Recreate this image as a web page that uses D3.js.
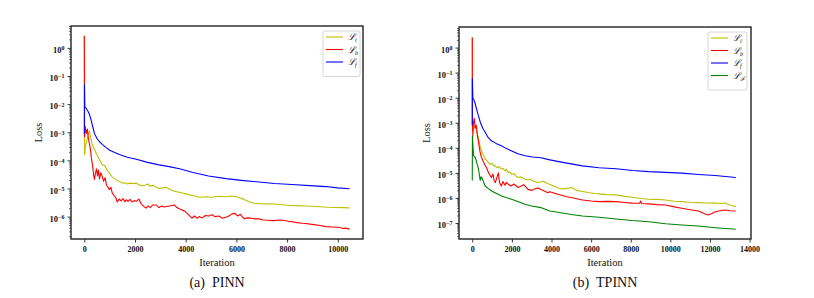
<!DOCTYPE html>
<html>
  <head>
    <meta charset="utf-8">
    <title>Loss curves</title>
    <script src="https://d3js.org/d3.v7.min.js"></script>
    <style>
      body { margin: 0; background: #fff; }
      svg text { font-family: "Liberation Serif", "DejaVu Serif", serif; fill: #111; }
    </style>
  </head>
  <body>
    <script>
      // --- data: [iteration, loss] ---
      const pinnLi = [[0,2.7],[10,1.6e-4],[50,3.5e-4],[100,5e-4],[150,8e-4],[200,1.1e-3],[260,6e-4],[320,3.5e-4],[400,2.5e-4],[480,1.7e-4],[590,1.1e-4],[700,7e-5],[800,6.5e-5],[900,4.5e-5],[985,3.5e-5],[1100,2.6e-5],[1200,2.2e-5],[1300,1.9e-5],[1380,1.8e-5],[1500,1.55e-5],[1600,1.6e-5],[1700,1.45e-5],[1800,1.55e-5],[1900,1.5e-5],[2050,1.55e-5],[2150,1.35e-5],[2250,1.25e-5],[2400,1.3e-5],[2500,1.45e-5],[2600,1.2e-5],[2700,1.3e-5],[2800,1.15e-5],[2950,1.0e-5],[3100,1.05e-5],[3230,1.1e-5],[3400,9e-6],[3550,8e-6],[3740,7.4e-6],[3900,6.8e-6],[4050,6.3e-6],[4250,5.6e-6],[4400,5.3e-6],[4530,4.9e-6],[4700,5.0e-6],[4850,5.1e-6],[5040,4.9e-6],[5200,5.2e-6],[5400,5.3e-6],[5600,5.1e-6],[5800,5.4e-6],[5950,5.2e-6],[6100,4.8e-6],[6300,4.1e-6],[6500,3.4e-6],[6700,3.0e-6],[6900,2.9e-6],[7200,2.85e-6],[7500,2.8e-6],[7800,2.65e-6],[8100,2.5e-6],[8400,2.45e-6],[8700,2.4e-6],[9000,2.35e-6],[9300,2.25e-6],[9600,2.15e-6],[9900,2.1e-6],[10200,2.08e-6],[10470,2.05e-6]];
      const pinnLb = [[0,2.7],[10,7e-4],[40,1.6e-3],[80,9e-4],[120,1.3e-3],[160,6e-4],[200,4e-4],[240,2.5e-4],[280,1.2e-4],[330,6e-5],[370,3e-5],[400,2.1e-5],[440,3.5e-5],[480,5e-5],[520,2.8e-5],[560,4.5e-5],[600,2.2e-5],[650,3.6e-5],[710,2.7e-5],[760,1.8e-5],[820,2.4e-5],[880,1.3e-5],[940,1.1e-5],[985,9e-6],[1050,1.1e-5],[1100,7e-6],[1180,5.5e-6],[1250,4.6e-6],[1300,3.3e-6],[1380,4.2e-6],[1450,3.6e-6],[1520,4.4e-6],[1600,3.4e-6],[1650,4e-6],[1720,3.5e-6],[1800,4.1e-6],[1880,3.3e-6],[1960,3.7e-6],[2050,3.5e-6],[2150,4.2e-6],[2250,2.8e-6],[2350,2.3e-6],[2440,2e-6],[2520,2.4e-6],[2600,2.1e-6],[2700,2.6e-6],[2830,2.6e-6],[2950,2.1e-6],[3050,2.4e-6],[3150,2.2e-6],[3250,2.3e-6],[3350,2.4e-6],[3450,2.5e-6],[3550,2.6e-6],[3650,2.1e-6],[3800,1.8e-6],[3950,1.6e-6],[4100,1.2e-6],[4250,8.9e-7],[4350,1.05e-6],[4450,8.7e-7],[4530,1.0e-6],[4650,9e-7],[4780,1.1e-6],[4900,1.05e-6],[5040,1.17e-6],[5150,1.0e-6],[5300,1.05e-6],[5450,8.8e-7],[5590,9.5e-7],[5700,1.05e-6],[5830,1.25e-6],[5950,1.3e-6],[6050,1.05e-6],[6150,1.2e-6],[6300,8.5e-7],[6450,9e-7],[6600,8.7e-7],[6750,8.3e-7],[6890,8.3e-7],[7050,7.6e-7],[7250,7.4e-7],[7480,7.2e-7],[7700,7.6e-7],[7900,7.3e-7],[8050,6.8e-7],[8190,6.6e-7],[8400,6.1e-7],[8600,5.8e-7],[8860,5.5e-7],[9050,5.2e-7],[9250,4.9e-7],[9530,4.4e-7],[9750,4.3e-7],[10040,4.2e-7],[10200,3.8e-7],[10300,3.9e-7],[10470,3.6e-7]];
      const pinnLf = [[0,8.5e-4],[8,5e-2],[20,8e-3],[80,7e-3],[150,5.5e-3],[200,4.4e-3],[280,2.5e-3],[330,1.6e-3],[400,9.1e-4],[500,6e-4],[600,4.6e-4],[710,3.7e-4],[850,2.9e-4],[1000,2.3e-4],[1200,1.9e-4],[1380,1.62e-4],[1700,1.3e-4],[2050,1.1e-4],[2500,8.5e-5],[2950,6.9e-5],[3350,6.0e-5],[3800,4.9e-5],[4250,3.8e-5],[4900,2.8e-5],[5590,2.24e-5],[6200,1.95e-5],[6890,1.7e-5],[7500,1.5e-5],[8190,1.38e-5],[8900,1.26e-5],[9530,1.17e-5],[10000,1.05e-5],[10470,9.8e-6]];

      const tpinnLi = [[0,2.5],[10,5e-4],[80,6e-4],[165,7.9e-4],[240,4e-4],[315,2.3e-4],[390,1.2e-4],[465,7.6e-5],[560,5e-5],[660,3.5e-5],[740,3.1e-5],[815,2.6e-5],[900,2.2e-5],[1000,2.4e-5],[1080,1.9e-5],[1165,1.9e-5],[1250,1.6e-5],[1350,1.8e-5],[1465,1.45e-5],[1550,1.5e-5],[1650,1.2e-5],[1720,1.4e-5],[1815,1.02e-5],[1900,1.1e-5],[2000,8.5e-6],[2100,9.5e-6],[2200,7.5e-6],[2315,6.5e-6],[2450,7e-6],[2600,5.8e-6],[2815,5.2e-6],[2950,5.6e-6],[3100,4.6e-6],[3315,4.1e-6],[3450,4.3e-6],[3600,4.6e-6],[3800,3.8e-6],[4100,3.0e-6],[4315,2.5e-6],[4550,2.3e-6],[4765,2.4e-6],[5015,2.6e-6],[5250,2.0e-6],[5565,1.8e-6],[5900,1.6e-6],[6200,1.5e-6],[6415,1.45e-6],[6800,1.35e-6],[7265,1.32e-6],[7700,1.15e-6],[8065,1.07e-6],[8500,9.5e-7],[8915,8.9e-7],[9300,8.8e-7],[9765,8.3e-7],[10200,7.4e-7],[10565,7.1e-7],[11000,6.7e-7],[11415,6.5e-7],[11800,6.3e-7],[12265,6.2e-7],[12600,6.0e-7],[12765,6.3e-7],[13000,5.2e-7],[13300,4.5e-7]];
      const tpinnLb = [[0,2.5],[5,1e-3],[30,3e-4],[60,1e-3],[100,1.5e-3],[150,6e-4],[200,8e-4],[250,3.5e-4],[315,1.6e-4],[390,7e-5],[465,4.1e-5],[560,2.8e-5],[665,1.9e-5],[740,1.5e-5],[815,1.02e-5],[900,8e-6],[965,6.5e-6],[1050,9e-6],[1100,5e-6],[1165,4.1e-6],[1230,6e-6],[1315,1.0e-5],[1380,4e-6],[1465,3.0e-6],[1550,4.5e-6],[1650,3.2e-6],[1720,4.2e-6],[1815,3.5e-6],[1950,3.0e-6],[2100,3.6e-6],[2315,2.6e-6],[2450,2.9e-6],[2600,3.4e-6],[2815,2.2e-6],[3000,2.0e-6],[3150,2.3e-6],[3315,2.5e-6],[3500,2.1e-6],[3815,1.6e-6],[3915,1.78e-6],[4315,1.4e-6],[4550,1.25e-6],[4765,1.12e-6],[5100,1.0e-6],[5565,8.3e-7],[6000,7.5e-7],[6415,7.1e-7],[6800,7.3e-7],[7265,7.1e-7],[7700,6.6e-7],[8065,6.2e-7],[8450,6.1e-7],[8500,7.5e-7],[8550,6.0e-7],[8915,5.8e-7],[9300,5.4e-7],[9765,5.2e-7],[10200,4.4e-7],[10565,3.9e-7],[11000,3.4e-7],[11415,3.0e-7],[11765,2.3e-7],[11915,2.1e-7],[12100,2.4e-7],[12265,2.8e-7],[12500,3.1e-7],[12765,3.3e-7],[13000,3.1e-7],[13300,3.0e-7]];
      const tpinnLf = [[0,8e-4],[5,5.8e-2],[30,9e-3],[65,9e-3],[140,6e-3],[215,3.6e-3],[300,2e-3],[415,1e-3],[530,6e-4],[665,4e-4],[800,2.6e-4],[965,1.9e-4],[1200,1.5e-4],[1465,1.2e-4],[1700,9.5e-5],[1965,7.6e-5],[2300,5.8e-5],[2665,4.8e-5],[3050,4.3e-5],[3465,4.0e-5],[3915,3.3e-5],[4700,2.5e-5],[5565,1.9e-5],[6400,1.6e-5],[7265,1.45e-5],[8100,1.25e-5],[8915,1.12e-5],[9750,1.05e-5],[10565,9.8e-6],[11415,8.6e-6],[12265,7.8e-6],[13300,6.5e-6]];
      const tpinnLF = [[0,5e-6],[8,3e-4],[30,1.3e-4],[65,4.8e-5],[150,4.2e-5],[230,2.5e-5],[315,1.4e-5],[400,5e-6],[450,7e-6],[520,5.5e-6],[650,3e-6],[800,2.4e-6],[980,1.9e-6],[1200,1.55e-6],[1480,1.2e-6],[1700,1.05e-6],[1980,8.9e-7],[2300,7.2e-7],[2650,5.6e-7],[3000,4.8e-7],[3480,4.1e-7],[3915,3.0e-7],[4315,2.7e-7],[5000,2.2e-7],[5565,1.9e-7],[6415,1.7e-7],[7265,1.45e-7],[8065,1.25e-7],[8915,1.12e-7],[9765,9.3e-8],[10565,8.3e-8],[11415,7.6e-8],[12265,6.5e-8],[13300,5.6e-8]];

      // tick labels
      const xTicksA = [0, 2000, 4000, 6000, 8000, 10000];
      const xTicksB = [0, 2000, 4000, 6000, 8000, 10000, 12000, 14000];
      const yExpA = [0, -1, -2, -3, -4, -5, -6];
      const yExpB = [0, -1, -2, -3, -4, -5, -6, -7];
      const captions = ["(a)\u2002PINN", "(b)\u2002TPINN"];

      const colors = { i: "#bfbf00", b: "#ff0000", f: "#0000ff", F: "#008000" };

      const svg = d3.select("body").append("svg")
        .attr("width", 814)
        .attr("height", 298);

      function drawPanel(p) {
        const x = d3.scaleLinear().domain(p.xDomain).range([p.left, p.right]);
        const y = d3.scaleLog().domain(p.yDomain).range([p.bottom, p.top]);

        const majors = p.yExp.map(e => Math.pow(10, e));
        // log minor ticks 2..9 per decade
        const minors = [];
        for (let e = Math.floor(Math.log10(p.yDomain[0])); e <= Math.ceil(Math.log10(p.yDomain[1])); e++) {
          for (let m = 2; m <= 9; m++) {
            const v = m * Math.pow(10, e);
            if (v >= p.yDomain[0] && v <= p.yDomain[1]) minors.push(v);
          }
        }

        const g = svg.append("g");

        // lines
        const line = d3.line()
          .x(d => x(d[0]))
          .y(d => y(d[1]));
        p.series.forEach(s => {
          g.append("path")
            .datum(s.data)
            .attr("d", line)
            .attr("fill", "none")
            .attr("stroke", s.color)
            .attr("stroke-width", 1.1)
            .attr("stroke-linejoin", "round");
        });

        // frame
        g.append("rect")
          .attr("x", p.left).attr("y", p.top)
          .attr("width", p.right - p.left).attr("height", p.bottom - p.top)
          .attr("fill", "none").attr("stroke", "#222").attr("stroke-width", 1.4);

        // y minor ticks
        g.append("g")
          .attr("transform", "translate(" + p.left + ",0)")
          .call(d3.axisLeft(y).tickValues(minors).tickSize(2).tickFormat(""))
          .call(a => a.select(".domain").remove())
          .selectAll("line").attr("stroke", "#222").attr("stroke-width", 0.6);

        // y major ticks with 10^k labels
        const yAxis = g.append("g")
          .attr("transform", "translate(" + p.left + ",0)")
          .call(d3.axisLeft(y).tickValues(majors).tickSize(3.5).tickPadding(3).tickFormat(""));
        yAxis.select(".domain").remove();
        yAxis.selectAll("line").attr("stroke", "#222").attr("stroke-width", 0.9);
        yAxis.selectAll(".tick text")
          .attr("font-size", 8.5)
          .attr("font-family", "Liberation Serif")
          .attr("font-weight", "bold")
          .attr("dy", "0.55em")
          .each(function(d) {
            const t = d3.select(this);
            const e = Math.round(Math.log10(d));
            t.append("tspan").text("10");
            t.append("tspan").attr("dy", "-0.45em").attr("font-size", 6)
              .text(e < 0 ? "\u2212" + (-e) : String(e));
          });

        // x axis
        const xAxis = g.append("g")
          .attr("transform", "translate(0," + p.bottom + ")")
          .call(d3.axisBottom(x).tickValues(p.xTicks).tickSize(3.5).tickPadding(4).tickFormat(d3.format("d")));
        xAxis.select(".domain").remove();
        xAxis.selectAll("line").attr("stroke", "#222").attr("stroke-width", 0.9);
        xAxis.selectAll("text")
          .attr("font-size", 8)
          .attr("font-weight", "bold")
          .attr("font-family", "Liberation Serif");

        // axis labels
        g.append("text")
          .attr("transform", "translate(" + (p.left - 29) + "," + ((p.top + p.bottom) / 2) + ") rotate(-90)")
          .attr("text-anchor", "middle")
          .attr("font-size", 10.5)
          .text("Loss");
        g.append("text")
          .attr("x", (p.left + p.right) / 2)
          .attr("y", p.bottom + 27)
          .attr("text-anchor", "middle")
          .attr("font-size", 10.5)
          .text("Iteration");
        g.append("text")
          .attr("x", (p.left + p.right) / 2)
          .attr("y", p.bottom + 48)
          .attr("text-anchor", "middle")
          .attr("font-size", 14)
          .text(p.caption);

        // legend
        const lg = g.append("g").attr("transform", "translate(" + p.legend.x + "," + p.legend.y + ")");
        lg.append("rect")
          .attr("width", p.legend.w)
          .attr("height", 8 + p.series.length * 12.5)
          .attr("rx", 2)
          .attr("fill", "#fff")
          .attr("stroke", "#ccc")
          .attr("stroke-width", 0.8);
        p.series.forEach((s, k) => {
          const yy = 6 + k * 12.5;
          lg.append("line")
            .attr("x1", 3).attr("x2", 20)
            .attr("y1", yy).attr("y2", yy)
            .attr("stroke", s.color).attr("stroke-width", 1.1);
          const t = lg.append("text")
            .attr("x", 25).attr("y", yy + 3)
            .attr("font-size", 9)
            .attr("font-family", "DejaVu Serif")
            .attr("font-style", "italic");
          t.append("tspan").text("\u2112");
          t.append("tspan").attr("dy", 2).attr("font-size", 6).text(s.sub);
        });
      }

      drawPanel({
        left: 71, right: 363, top: 26, bottom: 239,
        xDomain: [-525, 10995],
        yDomain: [1.6e-7, 6.0],
        xTicks: xTicksA,
        yExp: yExpA,
        caption: captions[0],
        legend: { x: 323, y: 31, w: 37 },
        series: [
          { data: pinnLi, color: colors.i, sub: "i" },
          { data: pinnLb, color: colors.b, sub: "b" },
          { data: pinnLf, color: colors.f, sub: "f" }
        ]
      });

      drawPanel({
        left: 459, right: 751, top: 27, bottom: 239,
        xDomain: [-670, 14070],
        yDomain: [2.3e-8, 6.6],
        xTicks: xTicksB,
        yExp: yExpB,
        caption: captions[1],
        legend: { x: 708, y: 32, w: 39 },
        series: [
          { data: tpinnLi, color: colors.i, sub: "i" },
          { data: tpinnLb, color: colors.b, sub: "b" },
          { data: tpinnLf, color: colors.f, sub: "f" },
          { data: tpinnLF, color: colors.F, sub: "\u2131" }
        ]
      });
    </script>
  </body>
</html>
